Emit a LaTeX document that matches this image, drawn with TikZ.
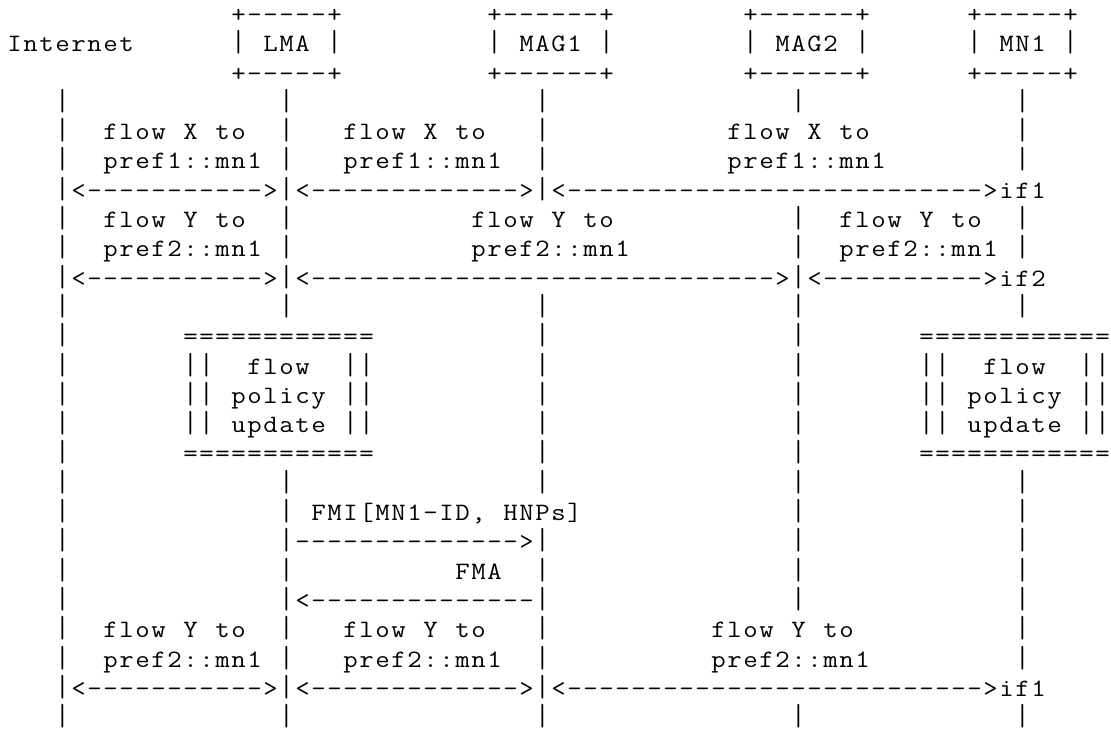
\documentclass[tikz,border=0pt]{standalone}
\usepackage{fontspec}
\usepackage{graphicx}
\makeatletter
\def\mt@bar{|}
\newcommand\mtxt[1]{\@tfor\mt@c:=#1\do{\makebox[16pt][c]{\ifx\mt@c\mt@bar\scalebox{1.1}[1.22]{|}\else\scalebox{1.12}[1]{\mt@c}\fi}}}
\makeatother
\newcommand\mrep[2]{\foreach \ii in {1,...,#1}{\makebox[16pt][c]{\scalebox{1.12}[1]{#2}}}}
\tikzset{txt/.style={anchor=base west,inner sep=0pt,outer sep=0pt,font=\fontsize{25}{30}\ttfamily\selectfont}}
\newcommand\seg[4]{\node[txt] (#1) at ({6.5+16*(#3)},{-22.4-29.3*(#2)}) {\mtxt{#4}};}
\newcommand\run[5]{\node[txt] (#1) at ({6.5+16*(#3)},{-22.4-29.3*(#2)}) {\mrep{#4}{#5}};}
\newcommand\bars[2]{\foreach \cc in {#2}{\node[txt] (b#1x\cc) at ({6.5+16*\cc},{-22.4-29.3*#1}) {\mtxt{|}};}}
\begin{document}
\begin{tikzpicture}[x=1pt,y=1pt]
\useasboundingbox (0,0) rectangle (1111,-731);
\fill[white] (0,0) rectangle (1111,-731);
% header boxes
\seg{lmaT}{0}{14}{+-----+}
\seg{magaT}{0}{30}{+------+}
\seg{magbT}{0}{46}{+------+}
\seg{mnT}{0}{60}{+-----+}
\seg{inet}{1}{0}{Internet}
\seg{lma}{1}{14}{|~LMA~|}
\seg{maga}{1}{30}{|~MAG1~|}
\seg{magb}{1}{46}{|~MAG2~|}
\seg{mn}{1}{60}{|~MN1~|}
\seg{lmaB}{2}{14}{+-----+}
\seg{magaB}{2}{30}{+------+}
\seg{magbB}{2}{46}{+------+}
\seg{mnB}{2}{60}{+-----+}
\bars{3}{3,17,33,49,63}
% flow X
\bars{4}{3,17,33,63}
\seg{r4a}{4}{6}{flow~X~to}
\seg{r4b}{4}{21}{flow~X~to}
\seg{r4c}{4}{45}{flow~X~to}
\bars{5}{3,17,33,63}
\seg{r5a}{5}{6}{pref1::mn1}
\seg{r5b}{5}{21}{pref1::mn1}
\seg{r5c}{5}{45}{pref1::mn1}
\seg{r6a}{6}{3}{|<}
\run{r6b}{6}{5}{11}{-}
\seg{r6c}{6}{16}{>|<}
\run{r6d}{6}{19}{13}{-}
\seg{r6e}{6}{32}{>|<}
\run{r6f}{6}{35}{26}{-}
\seg{r6g}{6}{61}{>if1}
% flow Y
\bars{7}{3,17,49,63}
\seg{r7a}{7}{6}{flow~Y~to}
\seg{r7b}{7}{29}{flow~Y~to}
\seg{r7c}{7}{52}{flow~Y~to}
\bars{8}{3,17,49,63}
\seg{r8a}{8}{6}{pref2::mn1}
\seg{r8b}{8}{29}{pref2::mn1}
\seg{r8c}{8}{52}{pref2::mn1}
\seg{r9a}{9}{3}{|<}
\run{r9b}{9}{5}{11}{-}
\seg{r9c}{9}{16}{>|<}
\run{r9d}{9}{19}{29}{-}
\seg{r9e}{9}{48}{>|<}
\run{r9f}{9}{51}{10}{-}
\seg{r9g}{9}{61}{>if2}
\bars{10}{3,17,33,49,63}
% policy boxes
\bars{11}{3,33,49}
\run{pl1}{11}{11}{12}{=}
\run{pr1}{11}{57}{12}{=}
\bars{12}{3,33,49}
\seg{pl2}{12}{11}{||~~flow~~||}
\seg{pr2}{12}{57}{||~~flow~~||}
\bars{13}{3,33,49}
\seg{pl3}{13}{11}{||~policy~||}
\seg{pr3}{13}{57}{||~policy~||}
\bars{14}{3,33,49}
\seg{pl4}{14}{11}{||~update~||}
\seg{pr4}{14}{57}{||~update~||}
\bars{15}{3,33,49}
\run{pl5}{15}{11}{12}{=}
\run{pr5}{15}{57}{12}{=}
\bars{16}{3,17,33,49,63}
% FMI / FMA
\bars{17}{3,17,49,63}
\seg{fmi}{17}{19}{FMI[MN1-ID,~HNPs]}
\bars{18}{3,49,63}
\seg{r18a}{18}{17}{|}
\run{r18b}{18}{18}{14}{-}
\seg{r18c}{18}{32}{>|}
\bars{19}{3,17,33,49,63}
\seg{fma}{19}{28}{FMA}
\bars{20}{3,49,63}
\seg{r20a}{20}{17}{|<}
\run{r20b}{20}{19}{14}{-}
\seg{r20c}{20}{33}{|}
% flow Y again
\bars{21}{3,17,33,63}
\seg{r21a}{21}{6}{flow~Y~to}
\seg{r21b}{21}{21}{flow~Y~to}
\seg{r21c}{21}{44}{flow~Y~to}
\bars{22}{3,17,33,63}
\seg{r22a}{22}{6}{pref2::mn1}
\seg{r22b}{22}{21}{pref2::mn1}
\seg{r22c}{22}{44}{pref2::mn1}
\seg{r23a}{23}{3}{|<}
\run{r23b}{23}{5}{11}{-}
\seg{r23c}{23}{16}{>|<}
\run{r23d}{23}{19}{13}{-}
\seg{r23e}{23}{32}{>|<}
\run{r23f}{23}{35}{26}{-}
\seg{r23g}{23}{61}{>if1}
\bars{24}{3,17,33,49,63}
\end{tikzpicture}
\end{document}
